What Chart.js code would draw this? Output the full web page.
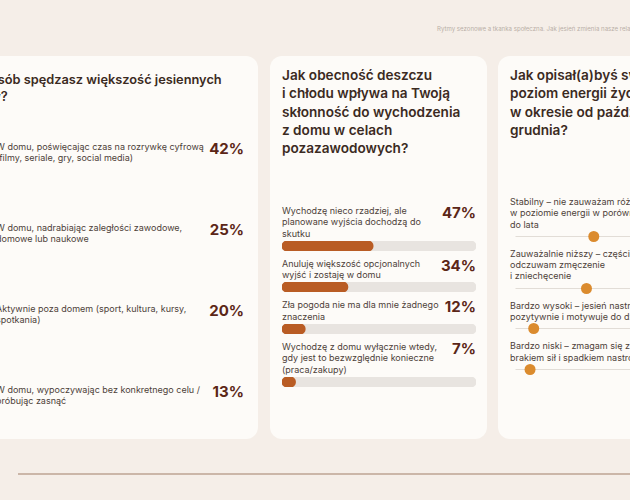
<!DOCTYPE html>
<html lang="pl">
<head>
<meta charset="utf-8">
<script src="https://cdn.jsdelivr.net/npm/chart.js@4.4.1/dist/chart.umd.min.js"></script>
<style>
  html, body { margin: 0; padding: 0; }
  body { width: 630px; height: 500px; overflow: hidden; position: relative; background: #f5eee8; font-family: Inter, "Noto Sans", sans-serif; }
  .sub { position: absolute; left: 437px; top: 25px; font-size: 6.1px; color: #b9aea7; white-space: nowrap; }
  .card { position: absolute; top: 56px; height: 383px; background: #fdfbf8; border-radius: 12px; }
  .title { position: absolute; font-size: 13.6px; font-weight: 600; line-height: 18.3px; color: #3b2a22; white-space: nowrap; }
  .lbl { font-size: 9px; line-height: 11.3px; color: #4d3f38; white-space: nowrap; }
  .pct { position: absolute; right: 0; top: -2px; font-size: 15px; font-weight: 700; color: #5b2617; }
  .row { position: relative; }
  canvas { display: block; }
  .rule { position: absolute; left: 18px; top: 473px; width: 640px; height: 1.5px; background: #cbb6a8; }
</style>
</head>
<body>
<div class="sub">Rytmy sezonowe a tkanka społeczna. Jak jesień zmienia nasze relacje?</div>

<div class="card" style="left:-100px; width:358px;">
  <div class="title" style="left:34px; top:15px; font-size:12.8px; line-height:17px;">W jaki sposób spędzasz większość jesiennych<br>wieczorów?</div>
  <div id="lista1" style="position:absolute; left:96px; right:14px; top:85px;"></div>
</div>

<div class="card" style="left:270px; width:217px;">
  <div class="title" style="left:12px; top:10px;">Jak obecność deszczu<br>i chłodu wpływa na Twoją<br>skłonność do wychodzenia<br>z domu w celach<br>pozazawodowych?</div>
  <div id="lista2" style="position:absolute; left:12px; width:194px; top:149px;"></div>
</div>

<div class="card" style="left:498px; width:217px;">
  <div class="title" style="left:12px; top:10px;">Jak opisał(a)byś swój<br>poziom energii życiowej<br>w okresie od października do<br>grudnia?</div>
  <div id="lista3" style="position:absolute; left:12px; width:193px; top:140px;"></div>
</div>

<div class="rule"></div>

<script>
// pytanie 1 – spędzanie wieczorów
const wieczoryEtykiety = [
  ['W domu, poświęcając czas na rozrywkę cyfrową', '(filmy, seriale, gry, social media)'],
  ['W domu, nadrabiając zaległości zawodowe,', 'domowe lub naukowe'],
  ['Aktywnie poza domem (sport, kultura, kursy,', 'spotkania)'],
  ['W domu, wypoczywając bez konkretnego celu /', 'próbując zasnąć']
];
const wieczoryProcent = [42, 25, 20, 13];

// pytanie 2 – deszcz i chłód
const deszczEtykiety = [
  ['Wychodzę nieco rzadziej, ale', 'planowane wyjścia dochodzą do', 'skutku'],
  ['Anuluję większość opcjonalnych', 'wyjść i zostaję w domu'],
  ['Zła pogoda nie ma dla mnie żadnego', 'znaczenia'],
  ['Wychodzę z domu wyłącznie wtedy,', 'gdy jest to bezwzględnie konieczne', '(praca/zakupy)']
];
const deszczProcent = [47, 34, 12, 7];

// pytanie 3 – poziom energii
const energiaEtykiety = [
  ['Stabilny – nie zauważam różnic', 'w poziomie energii w porównaniu', 'do lata'],
  ['Zauważalnie niższy – częściej', 'odczuwam zmęczenie', 'i zniechęcenie'],
  ['Bardzo wysoki – jesień nastraja mnie', 'pozytywnie i motywuje do działania'],
  ['Bardzo niski – zmagam się z ciągłym', 'brakiem sił i spadkiem nastroju']
];
const energiaProcent = [43, 39, 10, 8];

const kolorPasek = '#b95c24';
const kolorTlo = '#e8e4e0';
const kolorKropka = '#db8b2e';
const kolorLinia = '#e2ddd7';

const wspolne = {
  responsive: false,
  animation: false,
  events: [],
  layout: { padding: 0 },
  plugins: { legend: { display: false }, tooltip: { enabled: false } }
};

function etykieta(linie, procent) {
  const div = document.createElement('div');
  div.className = 'row';
  const l = document.createElement('div');
  l.className = 'lbl';
  l.innerHTML = linie.join('<br>');
  div.appendChild(l);
  if (procent !== null) {
    const p = document.createElement('div');
    p.className = 'pct';
    p.textContent = procent + '%';
    div.appendChild(p);
  }
  return div;
}

// karta 1 – tylko tekst
const lista1 = document.getElementById('lista1');
wieczoryEtykiety.forEach((linie, i) => {
  const r = etykieta(linie, wieczoryProcent[i]);
  r.style.height = '81px';
  lista1.appendChild(r);
});

// karta 2 – paski
const lista2 = document.getElementById('lista2');
deszczEtykiety.forEach((linie, i) => {
  const r = etykieta(linie, deszczProcent[i]);
  const cv = document.createElement('canvas');
  cv.width = 194; cv.height = 10;
  cv.style.marginTop = '2px';
  cv.style.marginBottom = '7px';
  r.appendChild(cv);
  lista2.appendChild(r);
  new Chart(cv, {
    type: 'bar',
    data: {
      labels: [''],
      datasets: [
        { data: [deszczProcent[i]], backgroundColor: kolorPasek, borderRadius: 5, borderSkipped: false, grouped: false, barPercentage: 1, categoryPercentage: 1 },
        { data: [100], backgroundColor: kolorTlo, borderRadius: 5, borderSkipped: false, grouped: false, barPercentage: 1, categoryPercentage: 1 }
      ]
    },
    options: Object.assign({}, wspolne, {
      indexAxis: 'y',
      scales: { x: { display: false, min: 0, max: 100 }, y: { display: false } }
    })
  });
});

// karta 3 – kropki na linii
const lista3 = document.getElementById('lista3');
energiaEtykiety.forEach((linie, i) => {
  const r = etykieta(linie, null);
  const cv = document.createElement('canvas');
  cv.width = 193; cv.height = 13;
  cv.style.marginBottom = '5px';
  r.appendChild(cv);
  lista3.appendChild(r);
  new Chart(cv, {
    type: 'scatter',
    data: {
      datasets: [
        { data: [{ x: energiaProcent[i], y: 0 }], pointRadius: 5.5, pointBackgroundColor: kolorKropka, backgroundColor: kolorKropka, pointBorderWidth: 0, borderWidth: 0, clip: false },
        { data: [{ x: 0, y: 0 }, { x: 100, y: 0 }], showLine: true, borderColor: kolorLinia, borderWidth: 1, pointRadius: 0, clip: false }
      ]
    },
    options: Object.assign({}, wspolne, {
      layout: { padding: { left: 5, right: 5, top: 6, bottom: 6 } },
      scales: { x: { display: false, min: 0, max: 100 }, y: { display: false, min: -1, max: 1 } }
    })
  });
});
</script>
</body>
</html>
